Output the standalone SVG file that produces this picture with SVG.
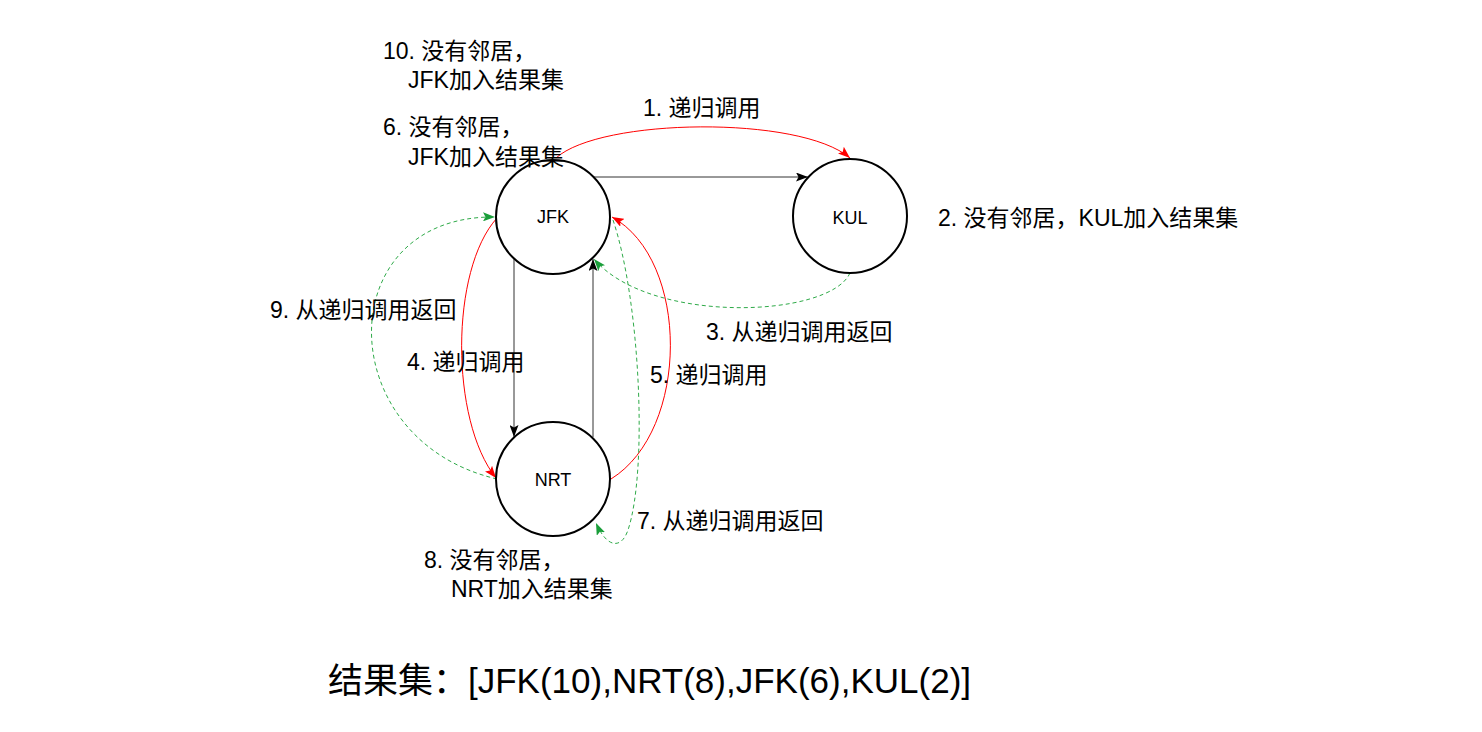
<svg xmlns="http://www.w3.org/2000/svg" width="1482" height="732" viewBox="0 0 1482 732">
<style>
.node{fill:#fff;stroke:#000;stroke-width:2}
.nl{font-family:"Liberation Sans","Noto Sans CJK SC",sans-serif;font-size:18px;fill:#000;text-anchor:middle}
.t{font-family:"Liberation Sans","Noto Sans CJK SC",sans-serif;font-size:23px;fill:#000}
.res{font-family:"Liberation Sans","Noto Sans CJK SC",sans-serif;font-size:35px;fill:#000}
.blk{fill:none;stroke:#333;stroke-width:1;marker-end:url(#ab)}
.red{fill:none;stroke:#ff0000;stroke-width:1;marker-end:url(#ar)}
.grn{fill:none;stroke:#2eaa48;stroke-width:1;stroke-dasharray:4 3;marker-end:url(#ag)}
</style>
<defs>
<marker id="ab" viewBox="0 0 12 9" refX="12" refY="4.5" markerWidth="12" markerHeight="9" orient="auto" markerUnits="userSpaceOnUse"><path d="M0,0 L12,4.5 L0,9 L2.5,4.5 z" fill="#000"/></marker>
<marker id="ar" viewBox="0 0 12 9" refX="12" refY="4.5" markerWidth="12" markerHeight="9" orient="auto" markerUnits="userSpaceOnUse"><path d="M0,0 L12,4.5 L0,9 L2.5,4.5 z" fill="#ff0000"/></marker>
<marker id="ag" viewBox="0 0 12 9" refX="12" refY="4.5" markerWidth="12" markerHeight="9" orient="auto" markerUnits="userSpaceOnUse"><path d="M0,0 L12,4.5 L0,9 L2.5,4.5 z" fill="#1a9e3a"/></marker>
</defs>
<rect width="1482" height="732" fill="#fff"/>
<g id="connectors">
<path class="blk" d="M594 177 L808 177"/>
<path class="blk" d="M514 259 L514 437"/>
<path class="blk" d="M593 437 L593 259"/>
<path class="red" d="M556 158 C600 118 800 115 850 158"/>
<path class="red" d="M497 218 C450 270 450 420 496 478"/>
<path class="red" d="M611 479 C690 430 690 260 612 217"/>
<path class="grn" d="M850 273 C830 318 650 325 594 259"/>
<path class="grn" d="M613 220 C640 300 648 470 628 530 C622 548 608 550 596 523"/>
<path class="grn" d="M497 479 C330 440 330 215 495 217"/>
</g>
<g id="node-jfk"><circle class="node" cx="553" cy="217" r="57"/><text class="nl" x="553" y="223">JFK</text></g>
<g id="node-kul"><circle class="node" cx="850" cy="216" r="57"/><text class="nl" x="850" y="224">KUL</text></g>
<g id="node-nrt"><circle class="node" cx="553" cy="479" r="57"/><text class="nl" x="553" y="486">NRT</text></g>
<g id="labels">
<text class="t" x="383" y="59">10. 没有邻居，</text>
<text class="t" x="408" y="88">JFK加入结果集</text>
<text class="t" x="383" y="135">6. 没有邻居，</text>
<text class="t" x="408" y="165">JFK加入结果集</text>
<text class="t" x="643" y="116">1. 递归调用</text>
<text class="t" x="938" y="226">2. 没有邻居，KUL加入结果集</text>
<text class="t" x="706" y="340">3. 从递归调用返回</text>
<text class="t" x="407" y="370">4. 递归调用</text>
<text class="t" x="650" y="383">5. 递归调用</text>
<text class="t" x="637" y="529">7. 从递归调用返回</text>
<text class="t" x="424" y="568">8. 没有邻居，</text>
<text class="t" x="451" y="597">NRT加入结果集</text>
<text class="t" x="270" y="318">9. 从递归调用返回</text>
<text class="res" x="328" y="693">结果集：[JFK(10),NRT(8),JFK(6),KUL(2)]</text>
</g>
</svg>
